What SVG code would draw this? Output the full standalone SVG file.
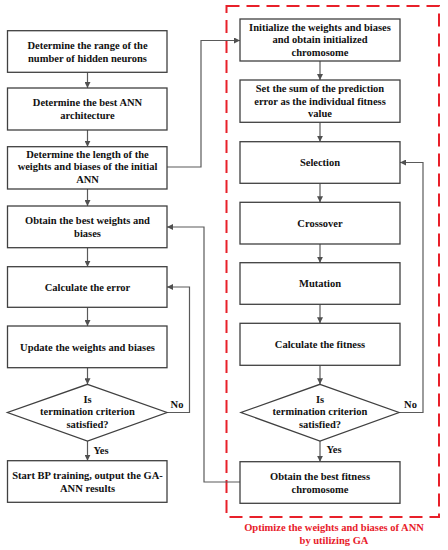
<svg xmlns="http://www.w3.org/2000/svg" width="448" height="550" viewBox="0 0 448 550">
<defs>
<marker id="ah" viewBox="0 0 10 10" refX="10" refY="5" markerWidth="6" markerHeight="6" markerUnits="userSpaceOnUse" orient="auto">
<path d="M0,0 L10,5 L0,10 z" fill="#505050"/>
</marker>
<style>
.box{fill:#fff;stroke:#404040;stroke-width:1.3}
.t{font-family:"Liberation Serif","Times New Roman",serif;font-weight:bold;font-size:10.5px;fill:#111;text-anchor:middle}
.c{fill:none;stroke:#5a5a5a;stroke-width:1.2;marker-end:url(#ah)}
.cn{fill:none;stroke:#5a5a5a;stroke-width:1.2}
.red{font-family:"Liberation Serif","Times New Roman",serif;font-weight:bold;font-size:10.5px;fill:#e8202a;text-anchor:middle}
</style>
</defs>
<rect width="448" height="550" fill="#fff"/>
<rect id="ga-frame" x="226.5" y="6" width="212.5" height="511" fill="none" stroke="#e8202a" stroke-width="2" stroke-dasharray="13,7"/>
<g id="connectors">
<line class="c" x1="87.5" y1="72.3" x2="87.5" y2="88"/>
<line class="c" x1="87.5" y1="130" x2="87.5" y2="146.7"/>
<line class="c" x1="87.5" y1="189" x2="87.5" y2="206"/>
<line class="c" x1="87.5" y1="247.7" x2="87.5" y2="266.7"/>
<line class="c" x1="87.5" y1="307.3" x2="87.5" y2="326"/>
<line class="c" x1="87.5" y1="367.7" x2="87.5" y2="384.3"/>
<line class="c" x1="87.5" y1="441" x2="87.5" y2="460.7"/>
<polyline class="c" points="167,412.5 189.5,412.5 189.5,287 167,287"/>
<polyline class="c" points="167,167 201,167 201,40.5 240,40.5"/>
<polyline class="c" points="240,482 204,482 204,227 167,227"/>
<line class="c" x1="320" y1="61" x2="320" y2="80"/>
<line class="c" x1="320" y1="122.3" x2="320" y2="141.7"/>
<line class="c" x1="320" y1="183.3" x2="320" y2="202.3"/>
<line class="c" x1="320" y1="244" x2="320" y2="262.7"/>
<line class="c" x1="320" y1="304.3" x2="320" y2="323.3"/>
<line class="c" x1="320" y1="365.3" x2="320" y2="384.3"/>
<line class="c" x1="320" y1="441" x2="320" y2="461.7"/>
<polyline class="c" points="399,412.5 423,412.5 423,162.5 400,162.5"/>
<text class="t" x="177" y="408">No</text>
<text class="t" x="410.5" y="408">No</text>
<text class="t" x="101" y="454">Yes</text>
<text class="t" x="334" y="453">Yes</text>
</g>
<g id="n1"><rect class="box" x="7.5" y="30.7" width="159.5" height="41.6"/>
<text class="t" x="87.5" y="48.5">Determine the range of the</text><text class="t" x="87.5" y="61.5">number of hidden neurons</text></g>
<g id="n2"><rect class="box" x="7.5" y="88" width="159.5" height="42"/>
<text class="t" x="87.5" y="106">Determine the best ANN</text><text class="t" x="87.5" y="119">architecture</text></g>
<g id="n3"><rect class="box" x="7.5" y="146.7" width="159.5" height="42.3"/>
<text class="t" x="87.5" y="157.5">Determine the length of the</text><text class="t" x="87.5" y="170.3">weights and biases of the initial</text><text class="t" x="87.5" y="183">ANN</text></g>
<g id="n4"><rect class="box" x="7.5" y="206" width="159.5" height="41.7"/>
<text class="t" x="87.5" y="224">Obtain the best weights and</text><text class="t" x="87.5" y="237">biases</text></g>
<g id="n5"><rect class="box" x="7.5" y="266.7" width="159.5" height="40.6"/>
<text class="t" x="87.5" y="290.5">Calculate the error</text></g>
<g id="n6"><rect class="box" x="7.5" y="326" width="159.5" height="41.7"/>
<text class="t" x="87.5" y="350.5">Update the weights and biases</text></g>
<g id="n7"><polygon class="box" points="87.5,384.3 167,412.5 87.5,441 7.5,412.5"/>
<text class="t" x="87.5" y="402.5">Is</text><text class="t" x="87.5" y="415">termination criterion</text><text class="t" x="87.5" y="427.5">satisfied?</text></g>
<g id="n8"><rect class="box" x="7.5" y="460.7" width="159.5" height="41.6"/>
<text class="t" x="87.5" y="478.5">Start BP training, output the GA-</text><text class="t" x="87.5" y="491.5">ANN results</text></g>
<g id="g1"><rect class="box" x="240" y="19" width="160" height="42"/>
<text class="t" x="320" y="30.7">Initialize the weights and biases</text><text class="t" x="320" y="43.3">and obtain initialized</text><text class="t" x="320" y="56">chromosome</text></g>
<g id="g2"><rect class="box" x="240" y="80" width="160" height="42.3"/>
<text class="t" x="320" y="92">Set the sum of the prediction</text><text class="t" x="320" y="104.7">error as the individual fitness</text><text class="t" x="320" y="117.3">value</text></g>
<g id="g3"><rect class="box" x="240" y="141.7" width="160" height="41.6"/>
<text class="t" x="320" y="166">Selection</text></g>
<g id="g4"><rect class="box" x="240" y="202.3" width="160" height="41.7"/>
<text class="t" x="320" y="226.5">Crossover</text></g>
<g id="g5"><rect class="box" x="240" y="262.7" width="160" height="41.6"/>
<text class="t" x="320" y="287">Mutation</text></g>
<g id="g6"><rect class="box" x="240" y="323.3" width="160" height="42"/>
<text class="t" x="320" y="347.5">Calculate the fitness</text></g>
<g id="g7"><polygon class="box" points="320,384.3 399,412.5 320,441 241,412.5"/>
<text class="t" x="320" y="402.5">Is</text><text class="t" x="320" y="415">termination criterion</text><text class="t" x="320" y="427.5">satisfied?</text></g>
<g id="g8"><rect class="box" x="240" y="461.7" width="160" height="41.6"/>
<text class="t" x="320" y="479.5">Obtain the best fitness</text><text class="t" x="320" y="492.5">chromosome</text></g>
<g id="caption"><text class="red" x="334" y="531">Optimize the weights and biases of ANN</text><text class="red" x="334" y="543.5">by utilizing GA</text></g>
</svg>
